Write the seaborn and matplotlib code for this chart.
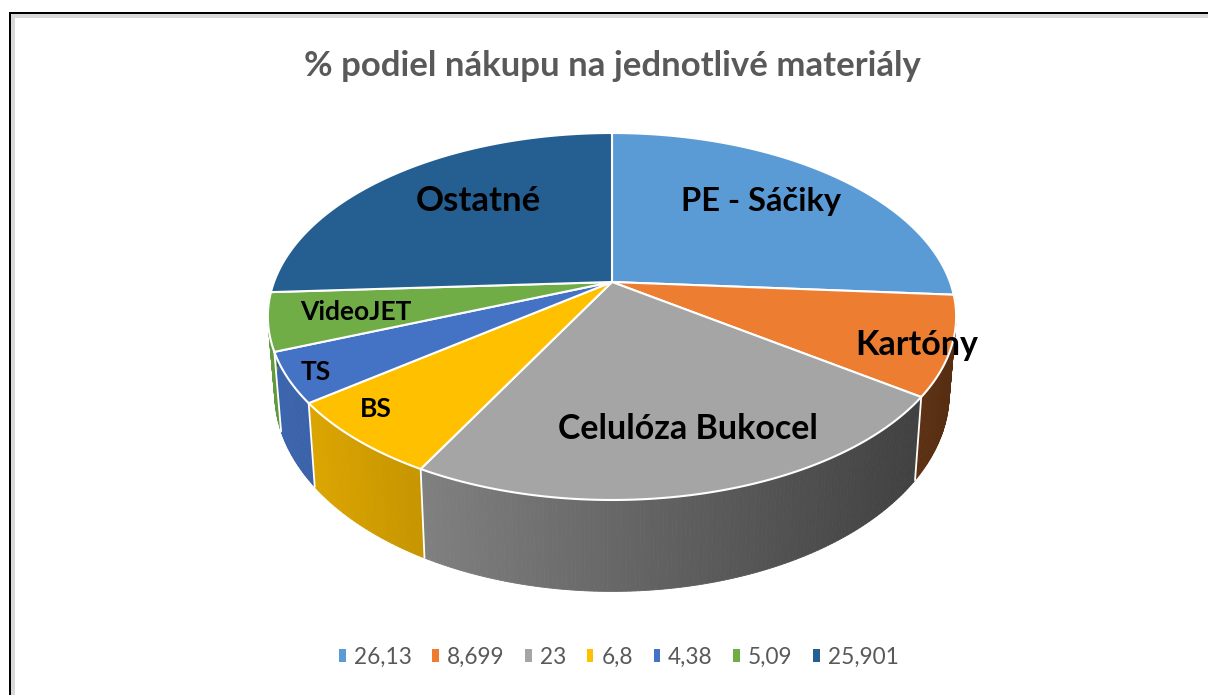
import numpy as np
import seaborn as sns
import matplotlib.pyplot as plt
from matplotlib.patches import Patch, Rectangle

names = ["PE - Sáčiky", "Kartóny", "Celulóza Bukocel", "BS", "TS", "VideoJET", "Ostatné"]
shares = [26.13, 8.699, 23, 6.8, 4.38, 5.09, 25.901]
legend_labels = ["26,13", "8,699", "23", "6,8", "4,38", "5,09", "25,901"]
colors = ["#5B9BD5", "#ED7D31", "#A5A5A5", "#FFC000", "#4472C4", "#70AD47", "#255E91"]
title = "% podiel nákupu na jednotlivé materiály"

sns.set_theme(style="white")
plt.rcParams["font.family"] = ["Lato", "DejaVu Sans"]
palette = sns.color_palette(colors)


# perspective of the pie disc, result is in picture pixels
def top_rim(theta):
    u, v = np.sin(theta), np.cos(theta)
    d = 1 + 0.188 * v
    return 612 + 338 * u / d, 282 + 177 * -v / d


def bottom_rim(theta):
    u, v = np.sin(theta), np.cos(theta)
    d = 1 + 0.188 * v
    return 612 + 0.98 * 338 * u / d, 356 + 1.08 * 177 * -v / d


def shade(rgb, x):
    f = 0.86 - (x - 316) * 0.000785
    return tuple(c * f for c in rgb)


fig, ax = plt.subplots(figsize=(12.08, 6.95), dpi=100)
ax.set_position([0, 0, 1, 1])
ax.set_xlim(0, 1208)
ax.set_ylim(695, 0)
ax.axis("off")

# outer frame of the screenshot
ax.add_patch(Rectangle((11, 14), 1197, 4, color="#d9d9d9", lw=0))
ax.add_patch(Rectangle((11, 14), 4, 681, color="#d9d9d9", lw=0))
ax.add_patch(Rectangle((9, 12), 1199, 2, color="black", lw=0))
ax.add_patch(Rectangle((9, 12), 2, 683, color="black", lw=0))

edges = np.concatenate([[0], np.cumsum(shares)]) / sum(shares) * 2 * np.pi

# side wall, strip by strip
for i, rgb in enumerate(palette):
    a0, a1 = max(edges[i], 1.45), min(edges[i + 1], 4.75)
    if a1 <= a0:
        continue
    steps = np.linspace(a0, a1, max(int((a1 - a0) * 90), 2))
    for s0, s1 in zip(steps[:-1], steps[1:]):
        tx0, ty0 = top_rim(s0)
        tx1, ty1 = top_rim(s1)
        bx0, by0 = bottom_rim(s0)
        bx1, by1 = bottom_rim(s1)
        c = shade(rgb, (bx0 + bx1) / 2)
        ax.fill([tx0, tx1, bx1, bx0], [ty0, ty1, by1, by0], color=c, lw=0.6, zorder=2)

# white seams on the wall
for a in edges[1:-1]:
    if 1.7 < a < 4.5:
        tx, ty = top_rim(a)
        bx, by = bottom_rim(a)
        ax.plot([tx, bx], [ty, by], color="white", lw=1.3, zorder=3)

# top of the pie
for i, rgb in enumerate(palette):
    th = np.linspace(edges[i], edges[i + 1], 120)
    xs, ys = top_rim(th)
    ax.fill(np.r_[612, xs], np.r_[282, ys], facecolor=rgb, edgecolor="white", lw=1.5,
            joinstyle="round", zorder=4)

# slice labels
label_spots = [(761, 201, 23.5), (917, 345, 24.5), (688, 429, 24.5), (376, 409, 19),
               (316, 372, 19), (356, 312, 19), (478, 201, 25)]
for name, (x, y, size) in zip(names, label_spots):
    ax.text(x, y, name, ha="center", va="center", fontsize=size, fontweight="bold",
            color="black", zorder=6)

ax.text(612, 66, title, ha="center", va="center", fontsize=25, fontweight="bold", color="#595959")

handles = [Patch(facecolor=c, edgecolor="none", label=t) for c, t in zip(palette, legend_labels)]
ax.legend(handles=handles, ncol=7, loc="center", bbox_to_anchor=(619, 657),
          bbox_transform=ax.transData, frameon=False, fontsize=16.3,
          labelcolor="#595959", handlelength=0.3, handleheight=0.52,
          handletextpad=0.35, columnspacing=0.91, borderpad=0)

plt.savefig("out.png", dpi=100)
